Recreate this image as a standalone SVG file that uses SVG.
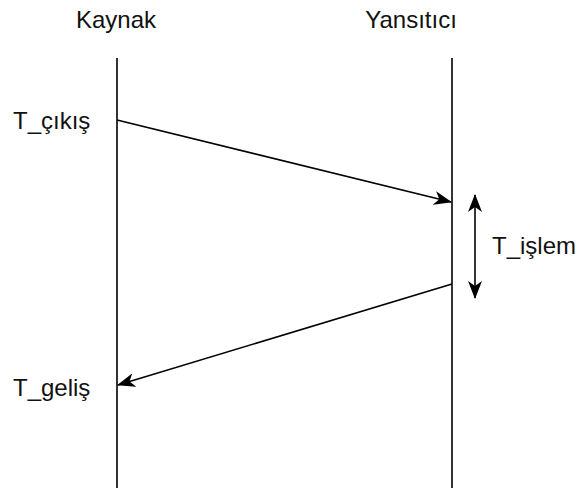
<svg xmlns="http://www.w3.org/2000/svg" width="579" height="491" viewBox="0 0 579 491">
<style>
text{font-family:"Liberation Sans",Arial,sans-serif;font-size:24px;fill:#111}
.l{stroke:#000;stroke-width:1.6;fill:none}
</style>
<defs>
<marker id="ah" viewBox="0 0 18 14" refX="17" refY="7" markerWidth="18" markerHeight="14" markerUnits="userSpaceOnUse" orient="auto-start-reverse">
<path d="M0,0 L18,7 L0,14 L5,7 Z" fill="#000"/>
</marker>
</defs>
<rect width="579" height="491" fill="#fff"/>
<g id="kaynak">
<text x="116" y="28" text-anchor="middle">Kaynak</text>
<line class="l" x1="117" y1="58" x2="117" y2="488"/>
</g>
<g id="yansitici">
<text x="411" y="28" text-anchor="middle">Yansıtıcı</text>
<line class="l" x1="452" y1="58" x2="452" y2="488"/>
</g>
<g id="label-cikis"><text x="13" y="129">T_çıkış</text></g>
<g id="label-gelis"><text x="13" y="396">T_geliş</text></g>
<g id="label-islem"><text x="492" y="254">T_işlem</text></g>
<g id="connectors">
<line class="l" x1="117" y1="120" x2="451" y2="202" marker-end="url(#ah)"/>
<line class="l" x1="452" y1="284" x2="118" y2="385" marker-end="url(#ah)"/>
<line class="l" x1="475" y1="195" x2="475" y2="298" marker-start="url(#ah)" marker-end="url(#ah)"/>
</g>
</svg>
